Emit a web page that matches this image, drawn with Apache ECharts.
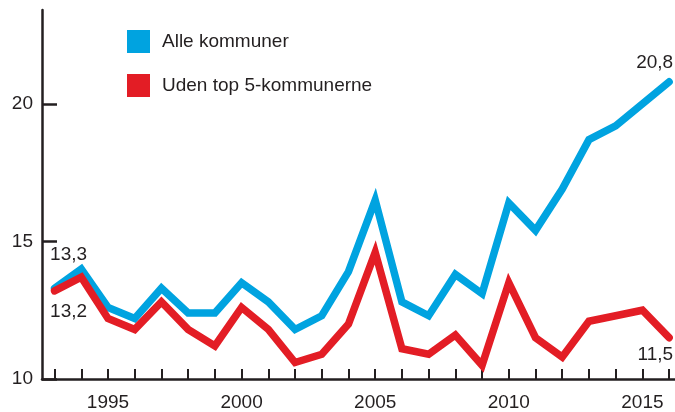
<!DOCTYPE html>
<html><head><meta charset="utf-8">
<script src="https://cdn.jsdelivr.net/npm/echarts@6/dist/echarts.min.js"></script>
<style>html,body{margin:0;padding:0;background:#fff}#c{width:675px;height:412px}</style>
</head><body><div id="c"></div>
<script>
const years = [1993,1994,1995,1996,1997,1998,1999,2000,2001,2002,2003,2004,2005,2006,2007,2008,2009,2010,2011,2012,2013,2014,2015,2016];
const alleKommuner = [13.3,14.0,12.6,12.2,13.3,12.4,12.4,13.5,12.8,11.8,12.3,13.9,16.5,12.8,12.3,13.8,13.1,16.4,15.4,16.9,18.7,19.2,20.0,20.8];
const udenTop5 = [13.2,13.7,12.2,11.8,12.8,11.8,11.2,12.6,11.8,10.6,10.9,12.0,14.6,11.1,10.9,11.6,10.5,13.5,11.5,10.8,12.1,12.3,12.5,11.5];
const xLabelYears = [1995,2000,2005,2010,2015];
const yTicks = [10,15,20];
const seriesNames = ['Alle kommuner','Uden top 5-kommunerne'];

const ink = '#231f20';
const font = 'Liberation Sans, Arial, sans-serif';
const blue = '#00a3e0', red = '#e31d25';

function build(vals, firstOff, lastOff) {
  return vals.map((v, i) => {
    const item = { value: [years[i], v] };
    if (i === 0) item.label = { show: true, position: 'inside', align: 'left', verticalAlign: 'middle', offset: firstOff, formatter: v.toFixed(1).replace('.', ',') };
    if (i === vals.length - 1) item.label = { show: true, position: 'inside', align: 'right', verticalAlign: 'middle', offset: lastOff, formatter: v.toFixed(1).replace('.', ',') };
    return item;
  });
}

const chart = echarts.init(document.getElementById('c'), null, {renderer: 'canvas'});
chart.setOption({
  animation: false,
  backgroundColor: '#fff',
  grid: { left: 42, right: 0, top: 10, bottom: 32, containLabel: false },
  legend: {
    orient: 'vertical', left: 127, top: 30, padding: 0,
    itemWidth: 23, itemHeight: 23, itemGap: 21,
    icon: 'rect',
    textStyle: { fontFamily: font, fontSize: 19, color: ink, padding: [0,0,0,7] },
    data: seriesNames
  },
  xAxis: {
    type: 'value', min: 1992.53, max: 2016.22,
    splitLine: { show: false },
    axisLine: { show: true, lineStyle: { color: ink, width: 2.5 } },
    axisTick: { show: true, inside: true, length: 10, lineStyle: { color: ink, width: 2 }, customValues: years },
    axisLabel: { customValues: xLabelYears, formatter: v => String(v), fontFamily: font, fontSize: 19, color: ink, margin: 14 }
  },
  yAxis: {
    type: 'value', min: 10, max: 23.41,
    splitLine: { show: false },
    axisLine: { show: true, lineStyle: { color: ink, width: 2.5 } },
    axisTick: { show: true, inside: true, length: 15, lineStyle: { color: ink, width: 2.5 }, customValues: yTicks },
    axisLabel: { customValues: yTicks, formatter: v => String(v), fontFamily: font, fontSize: 19, color: ink, margin: 9 }
  },
  series: [
    {
      name: seriesNames[0], type: 'line', data: build(alleKommuner, [-4.5, -33], [4, -19]),
      symbol: 'circle', symbolSize: 2, showSymbol: true,
      itemStyle: { color: blue },
      lineStyle: { color: blue, width: 7.5, cap: 'round', join: 'miter' },
      label: { fontFamily: font, fontSize: 19, color: ink },
      z: 2
    },
    {
      name: seriesNames[1], type: 'line', data: build(udenTop5, [-4.5, 21], [4, 17]),
      symbol: 'circle', symbolSize: 2, showSymbol: true,
      itemStyle: { color: red },
      lineStyle: { color: red, width: 7.5, cap: 'round', join: 'miter' },
      label: { fontFamily: font, fontSize: 19, color: ink },
      z: 3
    }
  ]
});
</script></body></html>
